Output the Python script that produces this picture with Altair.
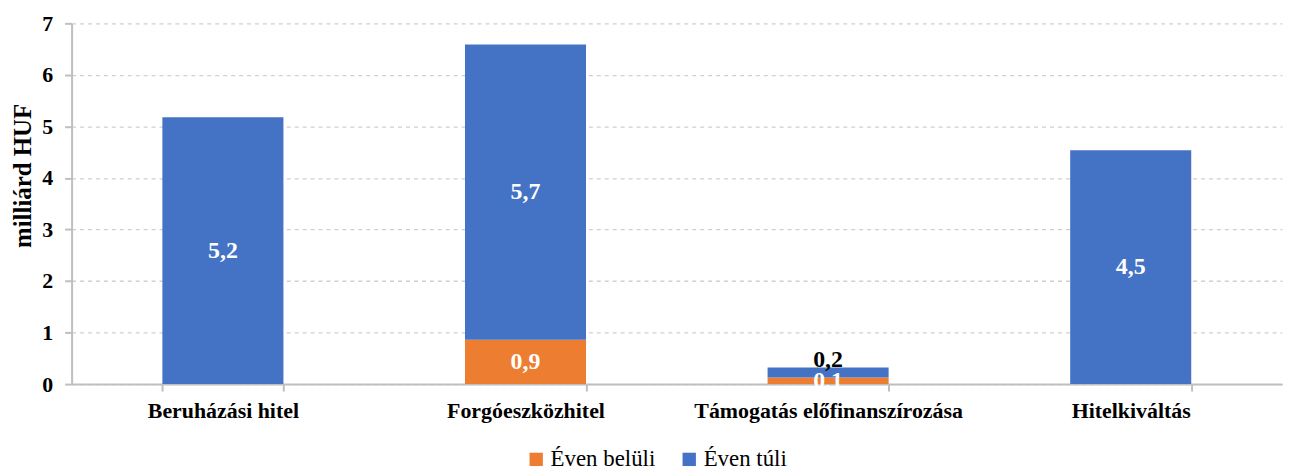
import altair as alt
import pandas as pd

categories = ["Beruházási hitel", "Forgóeszközhitel", "Támogatás előfinanszírozása", "Hitelkiváltás"]
series = ["Éven belüli", "Éven túli"]
even_beluli = [0.0, 0.86, 0.13, 0.0]
even_tuli = [5.18, 5.73, 0.19, 4.54]
colors = ["#ED7D31", "#4472C4"]
FONT = "Liberation Serif"

rows = []
for i, c in enumerate(categories):
    base = 0.0
    for s, vals in zip(series, [even_beluli, even_tuli]):
        v = vals[i]
        if v > 0:
            rows.append({
                "cat": c, "series": s, "order": series.index(s), "value": v,
                "label": f"{v:.1f}".replace(".", ","),
                "mid": base + v / 2, "top": base + v,
                "inside": not (s == "Éven túli" and v < 0.3),
            })
        base += v
df = pd.DataFrame(rows)

xenc = alt.X("cat:N", sort=categories, title=None,
             scale=alt.Scale(paddingInner=0.6, paddingOuter=0.3),
             axis=alt.Axis(labelAngle=0, labelFont=FONT, labelFontSize=22, labelFontWeight="bold",
                           labelColor="#000000", labelPadding=10, labelLimit=0,
                           tickBand="extent", tickSize=7,
                           tickColor="#BFBFBF", tickWidth=2, domainColor="#BFBFBF", domainWidth=2,
                           grid=False))

bars = alt.Chart(df).mark_bar().encode(
    x=xenc,
    y=alt.Y("value:Q", stack="zero", title="milliárd HUF",
            scale=alt.Scale(domain=[0, 7]),
            axis=alt.Axis(values=[0, 1, 2, 3, 4, 5, 6, 7], format="d",
                          labelFont=FONT, labelFontSize=22,
                          labelFontWeight="bold", labelColor="#000000", labelPadding=12,
                          tickSize=7, tickColor="#BFBFBF", tickWidth=2,
                          domainColor="#BFBFBF", domainWidth=2,
                          gridColor="#D0D0D0", gridDash=[4, 4], gridWidth=1.3,
                          titleFont=FONT, titleFontSize=25, titleFontWeight="bold",
                          titleColor="#000000", titlePadding=6, titleY=153)),
    color=alt.Color("series:N", sort=series,
                    scale=alt.Scale(domain=series, range=colors),
                    legend=alt.Legend(title=None, orient="none", direction="horizontal",
                                      legendX=456, legendY=427, symbolType="square",
                                      symbolSize=180, symbolStrokeWidth=0,
                                      labelFont=FONT, labelFontSize=23, labelColor="#000000",
                                      columnPadding=22, labelOffset=3)),
    order=alt.Order("order:Q"),
)

inside = alt.Chart(df).transform_filter("datum.inside").mark_text(
    font=FONT, fontSize=24, fontWeight="bold", color="white", baseline="middle"
).encode(x=alt.X("cat:N", sort=categories), y=alt.Y("mid:Q"), text="label:N")

outside = alt.Chart(df).transform_filter("!datum.inside").mark_text(
    font=FONT, fontSize=24, fontWeight="bold", color="black", baseline="bottom", dy=4
).encode(x=alt.X("cat:N", sort=categories), y=alt.Y("top:Q"), text="label:N")

chart = alt.layer(bars, inside, outside).properties(
    width=1218, height=363,
    background="white",
    autosize=alt.AutoSizeParams(type="none"),
    padding={"left": 64, "top": 14, "right": 2, "bottom": 87},
).configure_view(stroke=None)

chart.save("out.html", embed_options={"renderer": "svg", "actions": False})
